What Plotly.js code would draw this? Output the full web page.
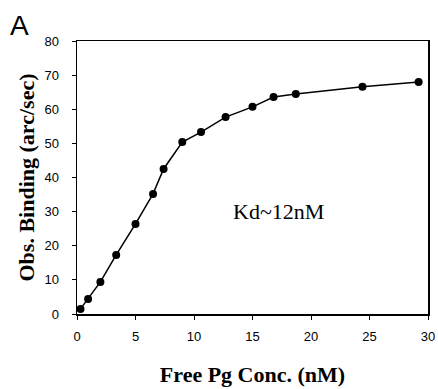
<!DOCTYPE html>
<html>
<head>
<meta charset="utf-8">
<script src="https://cdn.plot.ly/plotly-3.0.1.min.js"></script>
<style>html,body{margin:0;padding:0;background:#fff;}#chart{width:438px;height:389px;}</style>
</head>
<body>
<div id="chart"></div>
<script>
const freePg = [0.3, 0.95, 2.0, 3.35, 5.0, 6.5, 7.4, 9.0, 10.6, 12.7, 15.0, 16.8, 18.7, 24.4, 29.2];
const binding = [1.5, 4.4, 9.4, 17.3, 26.4, 35.2, 42.5, 50.4, 53.3, 57.7, 60.7, 63.6, 64.5, 66.6, 68.0];
const xTicks = [0, 5, 10, 15, 20, 25, 30];
const yTicks = [0, 10, 20, 30, 40, 50, 60, 70, 80];

const trace = {
  x: freePg, y: binding, type: 'scatter', mode: 'lines+markers',
  line: {color: '#000', width: 1.5},
  marker: {color: '#000', size: 8},
  cliponaxis: false, hoverinfo: 'skip'
};
const axisCommon = {
  showgrid: false, zeroline: false, showline: true, mirror: true,
  linecolor: '#000', linewidth: 1.5, ticks: 'outside', ticklen: 4,
  tickcolor: '#000', tickwidth: 1,
  tickfont: {family: 'Liberation Sans, Arial', size: 13, color: '#000'}
};
const layout = {
  width: 438, height: 389,
  margin: {l: 77, r: 10, t: 41, b: 75},
  paper_bgcolor: '#fff', plot_bgcolor: '#fff',
  showlegend: false,
  xaxis: Object.assign({}, axisCommon, {
    range: [0, 30], tickvals: xTicks, ticklabelstandoff: 6,
    title: {text: 'Free Pg Conc. (nM)', standoff: 23,
      font: {family: 'Liberation Serif, Times New Roman', size: 22, color: '#000', weight: 'bold'}}
  }),
  yaxis: Object.assign({}, axisCommon, {
    range: [0, 80], tickvals: yTicks, ticklabelstandoff: 10,
    title: {text: 'Obs. Binding (arc/sec)', standoff: 3,
      font: {family: 'Liberation Serif, Times New Roman', size: 22, color: '#000', weight: 'bold'}}
  }),
  annotations: [
    {text: 'A', xref: 'paper', yref: 'paper', x: -0.197, y: 1.12, xanchor: 'left', yanchor: 'top',
     showarrow: false, font: {family: 'Liberation Sans, Arial', size: 28, color: '#000'}},
    {text: 'Kd~12nM', xref: 'x', yref: 'y', x: 13.2, y: 30, xanchor: 'left', yanchor: 'middle',
     showarrow: false, font: {family: 'Liberation Serif, Times New Roman', size: 22, color: '#000'}}
  ]
};
Plotly.newPlot('chart', [trace], layout, {displayModeBar: false, staticPlot: true});
</script>
</body>
</html>
